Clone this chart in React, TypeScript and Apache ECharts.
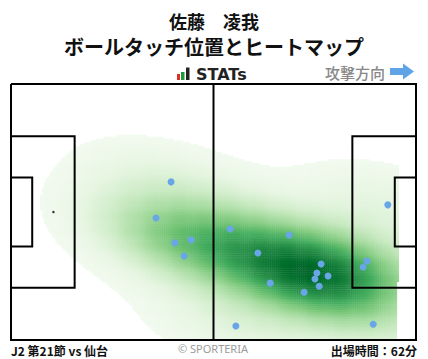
import React, { useEffect, useRef } from "react";
import * as echarts from "echarts";

// Pitch dimensions (metres)
const PITCH_LENGTH = 105;
const PITCH_WIDTH = 68;
const PENALTY_DEPTH = 16.5;
const PENALTY_WIDTH = 40.3;
const GOAL_AREA_DEPTH = 5.5;
const GOAL_AREA_WIDTH = 18.3;
const PENALTY_SPOT = 11;

// Ball touch positions (metres from left goal line / top touch line)
const touchX = [41.5, 37.6, 42.5, 46.7, 44.9, 56.8, 72.1, 64.0, 80.4, 79.3, 78.8, 82.2, 79.9, 76.0, 67.2, 92.3, 91.3, 93.9, 58.3, 97.7];
const touchY = [26.0, 35.6, 42.2, 41.4, 45.7, 38.5, 40.1, 44.9, 47.8, 50.2, 51.8, 51.0, 53.7, 55.3, 52.9, 47.0, 48.6, 63.8, 64.3, 32.1];

const titleLine1 = "佐藤　凌我";
const titleLine2 = "ボールタッチ位置とヒートマップ";
const brandText = "STATs";
const directionText = "攻撃方向";
const matchText = "J2 第21節 vs 仙台";
const creditText = "© SPORTERIA";
const minutesText = "出場時間：62分";

const GREENS = ["#f7fcf5", "#e5f5e0", "#c7e9c0", "#a1d99b", "#74c476", "#41ab5d", "#238b45", "#006d2c", "#00441b"];

function hexToRgb(h: string) {
  return [parseInt(h.slice(1, 3), 16), parseInt(h.slice(3, 5), 16), parseInt(h.slice(5, 7), 16)];
}
const GREENS_RGB = GREENS.map(hexToRgb);
function greens(t: number) {
  const v = Math.max(0, Math.min(1, t)) * (GREENS_RGB.length - 1);
  const i = Math.min(GREENS_RGB.length - 2, Math.floor(v));
  const f = v - i;
  const a = GREENS_RGB[i], b = GREENS_RGB[i + 1];
  const c = a.map((x, k) => Math.round(x + (b[k] - x) * f));
  return `rgb(${c[0]},${c[1]},${c[2]})`;
}

const BW_ADJUST = 1.3;
const THRESH = 0.03;

// Gaussian KDE (Scott's rule, full covariance) of the touches
function makeKde(xs: number[], ys: number[]) {
  const n = xs.length;
  const mx = xs.reduce((s, v) => s + v, 0) / n;
  const my = ys.reduce((s, v) => s + v, 0) / n;
  let sxx = 0, syy = 0, sxy = 0;
  for (let i = 0; i < n; i++) {
    const dx = xs[i] - mx, dy = ys[i] - my;
    sxx += dx * dx; syy += dy * dy; sxy += dx * dy;
  }
  sxx /= n - 1; syy /= n - 1; sxy /= n - 1;
  const f2 = Math.pow(n, -1 / 3) * BW_ADJUST * BW_ADJUST;
  const a = sxx * f2, d = syy * f2, b = sxy * f2;
  const det = a * d - b * b;
  const ia = d / det, id = a / det, ib = -b / det;
  return (x: number, y: number) => {
    let s = 0;
    for (let i = 0; i < n; i++) {
      const dx = x - xs[i], dy = y - ys[i];
      s += Math.exp(-0.5 * (ia * dx * dx + 2 * ib * dx * dy + id * dy * dy));
    }
    return s;
  };
}

function buildHeat() {
  const kde = makeKde(touchX, touchY);
  const vals: number[] = [];
  for (let x = -60; x <= 165; x += 1) for (let y = -60; y <= 128; y += 1) vals.push(kde(x, y));
  const total = vals.reduce((s, v) => s + v, 0);
  const sorted = vals.slice().sort((p, q) => q - p);
  let cum = 0, thr = 0;
  const maxV = sorted[0];
  for (let i = 0; i < sorted.length; i++) {
    cum += sorted[i];
    if (cum / total >= 1 - THRESH) { thr = sorted[i]; break; }
  }
  const nx = 210, ny = 136;
  const hx = PITCH_LENGTH / nx, hy = PITCH_WIDTH / ny;
  const cells: number[][] = [];
  for (let i = 0; i < nx; i++) {
    for (let j = 0; j < ny; j++) {
      const cx = (i + 0.5) * hx, cy = (j + 0.5) * hy;
      const dv = kde(cx, cy);
      if (dv < thr) continue;
      cells.push([cx, cy, (dv - thr) / (maxV - thr)]);
    }
  }
  return { cells, hx, hy };
}

function pitchLines() {
  const L = PITCH_LENGTH, W = PITCH_WIDTH, c = W / 2;
  const pw = PENALTY_WIDTH / 2, gw = GOAL_AREA_WIDTH / 2;
  return [
    [[0, 0], [L, 0], [L, W], [0, W], [0, 0]],
    [[L / 2, 0], [L / 2, W]],
    [[0, c - pw], [PENALTY_DEPTH, c - pw], [PENALTY_DEPTH, c + pw], [0, c + pw]],
    [[0, c - gw], [GOAL_AREA_DEPTH, c - gw], [GOAL_AREA_DEPTH, c + gw], [0, c + gw]],
    [[L, c - pw], [L - PENALTY_DEPTH, c - pw], [L - PENALTY_DEPTH, c + pw], [L, c + pw]],
    [[L, c - gw], [L - GOAL_AREA_DEPTH, c - gw], [L - GOAL_AREA_DEPTH, c + gw], [L, c + gw]],
  ];
}

export default function App() {
  const ref = useRef<HTMLDivElement>(null);
  useEffect(() => {
    if (!ref.current) return;
    const chart = echarts.init(ref.current, null, { renderer: "svg" });
    const { cells, hx, hy } = buildHeat();
    const lines = pitchLines();
    const cjk = '"Noto Sans CJK JP"';
    chart.setOption({
      animation: false,
      backgroundColor: "#ffffff",
      grid: { left: 11, right: 12, top: 84, bottom: 19 },
      xAxis: { type: "value", min: 0, max: PITCH_LENGTH, show: false },
      yAxis: { type: "value", min: 0, max: PITCH_WIDTH, inverse: true, show: false },
      series: [
        {
          type: "custom",
          silent: true,
          data: cells,
          renderItem: (params: any, api: any) => {
            const x = api.value(0), y = api.value(1), v = api.value(2);
            const p0 = api.coord([Math.max(0, x - hx / 2), Math.max(0, y - hy / 2)]);
            const p1 = api.coord([Math.min(PITCH_LENGTH, x + hx / 2), Math.min(PITCH_WIDTH, y + hy / 2)]);
            return {
              type: "rect",
              shape: {
                x: Math.min(p0[0], p1[0]),
                y: Math.min(p0[1], p1[1]),
                width: Math.abs(p1[0] - p0[0]) + 0.4,
                height: Math.abs(p1[1] - p0[1]) + 0.4,
              },
              style: { fill: greens(0.04 + v * 0.86) },
            };
          },
          z: 1,
        },
        {
          type: "custom",
          silent: true,
          data: lines.map((_, i) => [i]),
          renderItem: (params: any, api: any) => {
            const pts = lines[params.dataIndex].map((p) => api.coord(p));
            return {
              type: "polyline",
              shape: { points: pts },
              style: { stroke: "#000", lineWidth: 2, fill: null },
            };
          },
          z: 3,
        },
        {
          type: "scatter",
          silent: true,
          data: [[PENALTY_SPOT, PITCH_WIDTH / 2]],
          symbolSize: 2.5,
          itemStyle: { color: "#000" },
          z: 4,
        },
        {
          type: "scatter",
          silent: true,
          data: touchX.map((x, i) => [x, touchY[i]]),
          symbolSize: 7,
          itemStyle: { color: "#68a6e8", opacity: 1 },
          z: 5,
        },
      ],
      graphic: [
        { type: "text", style: { text: titleLine1, x: 214, y: 21, textAlign: "center", textVerticalAlign: "middle", font: `bold 18px ${cjk}`, fill: "#111" } },
        { type: "text", style: { text: titleLine2, x: 214, y: 46, textAlign: "center", textVerticalAlign: "middle", font: `bold 20px ${cjk}`, fill: "#111" } },
        { type: "rect", shape: { x: 177, y: 74, width: 3, height: 6 }, style: { fill: "#e02b2b" } },
        { type: "rect", shape: { x: 181, y: 72, width: 3.5, height: 8 }, style: { fill: "#1f9a3a" } },
        { type: "rect", shape: { x: 186, y: 67.5, width: 3.5, height: 12.5 }, style: { fill: "#222" } },
        { type: "text", style: { text: brandText, x: 196, y: 74, textAlign: "left", textVerticalAlign: "middle", font: 'bold 16px "DejaVu Sans"', fill: "#222" } },
        { type: "text", style: { text: directionText, x: 385, y: 72, textAlign: "right", textVerticalAlign: "middle", font: `500 15px ${cjk}`, fill: "#888" } },
        { type: "polygon", shape: { points: [[390, 68], [403, 68], [403, 63.5], [414, 71.5], [403, 79.5], [403, 75], [390, 75]] }, style: { fill: "#5ea4e6" } },
        { type: "text", style: { text: matchText, x: 11, y: 350, textAlign: "left", textVerticalAlign: "middle", font: `bold 12px ${cjk}`, fill: "#111" } },
        { type: "text", style: { text: creditText, x: 213, y: 348, textAlign: "center", textVerticalAlign: "middle", font: '11px "Noto Sans"', fill: "#9a9a9a" } },
        { type: "text", style: { text: minutesText, x: 417, y: 350, textAlign: "right", textVerticalAlign: "middle", font: `bold 12px ${cjk}`, fill: "#111" } },
      ],
    });
    return () => chart.dispose();
  }, []);
  return <div ref={ref} style={{ width: 428, height: 359, position: "absolute", left: 0, top: 0 }} />;
}
